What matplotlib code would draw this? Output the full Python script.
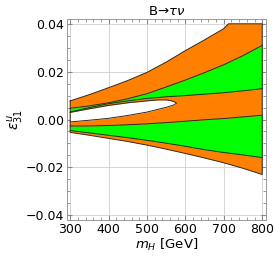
import matplotlib
matplotlib.use("Agg")
import matplotlib.pyplot as plt
from matplotlib.ticker import MultipleLocator

# lectures sur l'image (m_H en GeV, epsilon sans unité)
m_top = [300, 350, 400, 450, 500, 550, 600, 650, 700, 712, 750, 800]
top = [0.0078, 0.0104, 0.0133, 0.0163, 0.0197, 0.0240, 0.0288, 0.0333, 0.0380, 0.0400, 0.0400, 0.0400]

m = [300, 350, 400, 450, 500, 550, 600, 650, 700, 750, 800]
upper_green_top = [0.0047, 0.0057, 0.0070, 0.0087, 0.0108, 0.0136, 0.0165, 0.0196, 0.0229, 0.0267, 0.0310]
upper_green_bot = [0.0031, 0.0050, 0.0066, 0.0078, 0.0088, 0.0095, 0.0100, 0.0106, 0.0112, 0.0120, 0.0129]
lower_green_top = [-0.0027, -0.0027, -0.0025, -0.0022, -0.0018, -0.0013, -0.0007, -0.0001, 0.0004, 0.0011, 0.0018]
lower_green_bot = [-0.0046, -0.0056, -0.0066, -0.0076, -0.0087, -0.0099, -0.0112, -0.0126, -0.0138, -0.0148, -0.0159]
bottom = [-0.0054, -0.0066, -0.0079, -0.0092, -0.0107, -0.0124, -0.0142, -0.0161, -0.0181, -0.0204, -0.0230]

# trou blanc au milieu
m_hole = [300, 350, 400, 450, 500, 530, 550, 562, 570, 574, 576]
hole_top = [0.0030, 0.0045, 0.0059, 0.0070, 0.0078, 0.0082, 0.0082, 0.0079, 0.0075, 0.0071, 0.0068]
hole_bot = [-0.0010, -0.0003, 0.0005, 0.0017, 0.0031, 0.0043, 0.0051, 0.0057, 0.0061, 0.0065, 0.0068]

orange = "#ff8000"
green = "#00ff00"
edge = "#2a2a2a"

fig = plt.figure(figsize=(2.74, 2.57), dpi=100)
ax = fig.add_axes([0.245, 0.144, 0.726, 0.782])

# zone orange globale : contour fermé haut + bas
ax.fill(m_top + m[::-1], top + bottom[::-1], color=orange, lw=0, zorder=2)
ax.fill_between(m, upper_green_bot, upper_green_top, color=green, lw=0, zorder=3)
ax.fill_between(m, lower_green_bot, lower_green_top, color=green, lw=0, zorder=3)
ax.fill_between(m_hole, hole_bot, hole_top, color="white", lw=0, zorder=4)

lw = 0.7
ax.plot(m_top + m[::-1] + [m_top[0]], top + bottom[::-1] + [top[0]], color=edge, lw=lw, zorder=5)
for curve in [upper_green_top, upper_green_bot, lower_green_top, lower_green_bot]:
    ax.plot(m, curve, color=edge, lw=lw, zorder=5)
ax.plot(m_hole, hole_top, color=edge, lw=lw, zorder=5)
ax.plot(m_hole, hole_bot, color=edge, lw=lw, zorder=5)

ax.set_xlim(292, 810)
ax.set_ylim(-0.042, 0.042)
ax.xaxis.set_major_locator(MultipleLocator(100))
ax.xaxis.set_minor_locator(MultipleLocator(20))
ax.yaxis.set_major_locator(MultipleLocator(0.02))
ax.yaxis.set_minor_locator(MultipleLocator(0.005))
ax.set_yticks([0.04, 0.02, 0.0, -0.02, -0.04])
ax.set_yticklabels(["0.04", "0.02", "0.00", "\u22120.02", "\u22120.04"])
ax.grid(True, which="major", color="#d0d0d0", lw=0.6, zorder=1)
for g in ax.get_xgridlines() + ax.get_ygridlines():
    g.set_zorder(1)

ax.tick_params(which="both", direction="in", top=True, right=True, colors="#888888",
               labelcolor="black", labelsize=9, pad=2)
ax.tick_params(which="major", length=3.5)
ax.tick_params(which="minor", length=2)
for s in ax.spines.values():
    s.set_color("#999999")
    s.set_linewidth(0.7)

ax.set_title("B\u2192" + r"$\tau\nu$", fontsize=9.5, pad=3)
ax.set_xlabel(r"$m_H$ [GeV]", fontsize=9.5, labelpad=1)
ax.set_ylabel(r"$\epsilon^{u}_{31}$", fontsize=10, labelpad=0)

fig.savefig("out.png", dpi=100)
